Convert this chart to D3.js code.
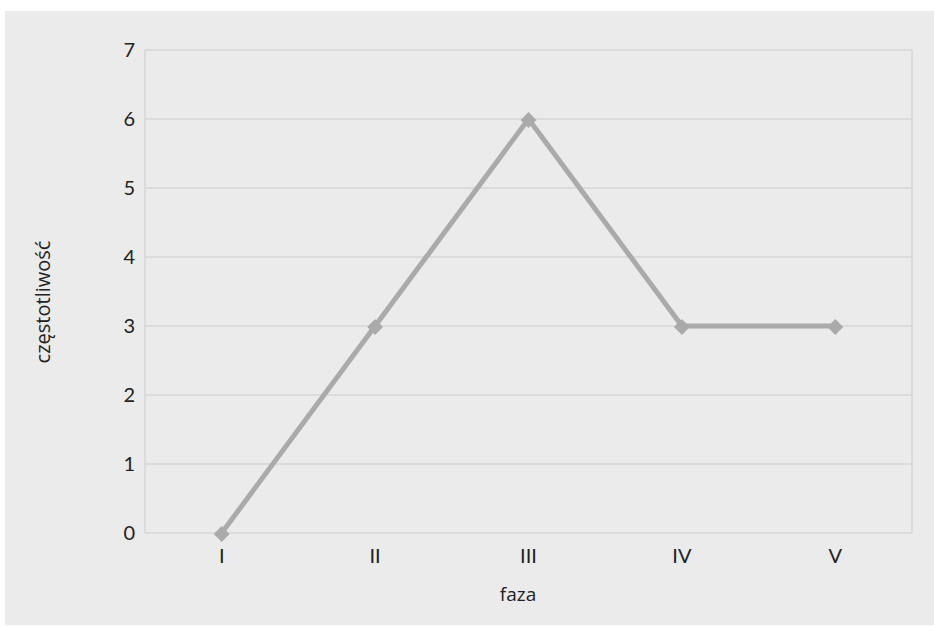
<!DOCTYPE html>
<html><head><meta charset="utf-8">
<script src="https://cdn.jsdelivr.net/npm/d3@7"></script>
<style>body{margin:0;background:#fff}svg{display:block}</style>
</head><body>
<script>
const categories = ["I","II","III","IV","V"];
const values = [0,3,6,3,3];
const yTicks = [0,1,2,3,4,5,6,7];
const xTitle = "faza";
const yTitle = "częstotliwość";

const W=934,H=626;
const m={left:145,right:912,top:50,bottom:533};
const svg=d3.select("body").append("svg").attr("width",W).attr("height",H);
svg.append("rect").attr("x",5).attr("y",11).attr("width",W-5).attr("height",614).attr("fill","#ebebeb");

const x=d3.scaleBand().domain(categories).range([m.left,m.right]);
const y=d3.scaleLinear().domain([0,7]).range([m.bottom,m.top]);
const font="Lato, 'Open Sans', sans-serif";

const grid=svg.append("g");
grid.selectAll("line.h").data(yTicks).join("line")
  .attr("x1",m.left).attr("x2",m.right).attr("y1",d=>y(d)).attr("y2",d=>y(d))
  .attr("stroke","#d6d6d6").attr("stroke-width",1.5);
[m.left,m.right].forEach(xx=>grid.append("line").attr("x1",xx).attr("x2",xx)
  .attr("y1",m.top).attr("y2",m.bottom).attr("stroke","#d6d6d6").attr("stroke-width",1.5));

const yAxis=svg.append("g").attr("transform",`translate(${m.left},0)`)
  .call(d3.axisLeft(y).tickValues(yTicks).tickFormat(d3.format("d")).tickSize(0).tickPadding(10));
yAxis.select(".domain").remove();
yAxis.selectAll("text").attr("font-family",font).attr("font-size",20).attr("fill","#222");

const xAxis=svg.append("g").attr("transform",`translate(0,${m.bottom})`)
  .call(d3.axisBottom(x).tickSize(0).tickPadding(16));
xAxis.select(".domain").remove();
xAxis.selectAll("text").attr("font-family",font).attr("font-size",20).attr("fill","#222");

const cx=d=>x(d)+x.bandwidth()/2;
const pts=categories.map((c,i)=>[cx(c),y(values[i])]);
svg.append("path").attr("d",d3.line()(pts)).attr("fill","none")
  .attr("stroke","#aaaaaa").attr("stroke-width",5).attr("stroke-linejoin","round");
svg.selectAll("path.mk").data(pts).join("path").attr("class","mk")
  .attr("transform",d=>`translate(${d[0]},${d[1]+1})`)
  .attr("d",d3.symbol(d3.symbolDiamond2,160)).attr("fill","#aaaaaa");

svg.append("text").attr("x",518).attr("y",601).attr("text-anchor","middle")
  .attr("font-family","'Open Sans', sans-serif").attr("font-size",19).attr("fill","#222").text(xTitle);
svg.append("text").attr("transform",`translate(50,302) rotate(-90)`)
  .attr("text-anchor","middle").attr("font-family","'Open Sans', sans-serif").attr("font-size",20)
  .attr("fill","#222").text(yTitle);
</script>
</body></html>
